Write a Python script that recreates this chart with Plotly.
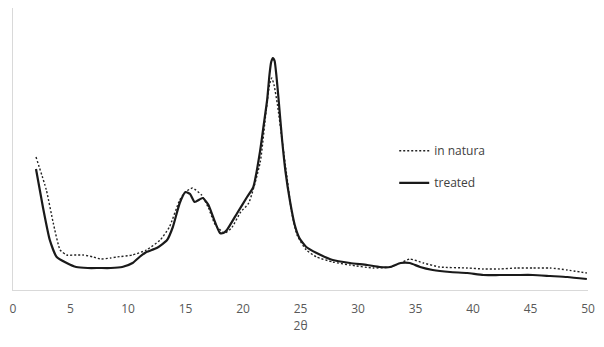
import plotly.graph_objects as go

# treated (solid)
treated_x = [2.0, 2.6, 3.2, 3.8, 4.67, 5.5, 6.5, 7.5, 8.5, 9.5, 10.4, 11.0, 11.6, 12.5, 13.4, 13.9,
             14.5, 15.0, 15.4, 15.8, 16.5, 17.0, 17.4, 18.0, 18.3, 18.6, 19.5, 20.3, 20.9, 21.5,
             21.8, 22.1, 22.3, 22.45, 22.6, 22.75, 22.9, 23.1, 23.4, 23.7, 24.1, 24.5, 24.9,
             25.5, 26.4, 27.8, 29.3, 30.8, 31.9, 32.8, 33.7, 34.5, 35.4, 36.5, 38.0, 39.5,
             40.9, 42.3, 43.8, 45.2, 46.7, 48.2, 49.9]
treated_y = [121, 83, 50, 33, 27, 23, 22, 22, 22, 23, 27, 33, 38, 42, 50, 63,
             87, 98, 96, 88, 92, 85, 73, 57, 57, 60, 77, 92, 103, 140,
             165, 190, 215, 228, 232, 229, 215, 190, 150, 118, 88, 65, 52,
             43, 37, 30, 27, 25, 23, 23, 27, 27, 23, 20, 18, 17,
             15, 15, 15, 15, 14, 13, 11]

# in natura (dotted)
natura_x = [2.0, 2.9, 3.5, 4.1, 4.67, 5.5, 6.1, 7.0, 7.6, 8.5, 9.0, 10.4, 11.6, 12.8, 13.6, 14.5,
            15.0, 15.6, 16.4, 17.0, 17.6, 18.4, 19.0, 19.8, 20.5, 21.5, 22.0, 22.3, 22.5, 22.7,
            23.0, 23.4, 23.8, 24.2, 24.7, 25.5, 26.4, 27.8, 29.3, 31.3, 32.8, 33.7, 34.5, 35.7,
            37.1, 39.5, 40.9, 42.3, 43.8, 45.2, 46.7, 48.2, 49.9]
natura_y = [133, 100, 67, 40, 35, 35, 35, 33, 31, 32, 33, 35, 40, 50, 63, 90,
            98, 102, 95, 82, 65, 57, 62, 78, 87, 128, 178, 205, 212, 205,
            185, 150, 115, 80, 55, 40, 33, 28, 25, 22, 23, 27, 31, 27,
            23, 22, 21, 21, 22, 22, 22, 20, 17]

x_ticks = [0, 5, 10, 15, 20, 25, 30, 35, 40, 45, 50]

fig = go.Figure()
fig.add_trace(go.Scatter(x=natura_x, y=natura_y, mode="lines", name="in natura",
                         legendgroup="a",
                         line=dict(color="#222222", width=1.4, dash="2px,2px",
                                   shape="spline", smoothing=0.5)))
fig.add_trace(go.Scatter(x=treated_x, y=treated_y, mode="lines", name="treated",
                         legendgroup="b",
                         line=dict(color="#1a1a1a", width=2.2,
                                   shape="spline", smoothing=0.5)))

# page body has an 8px margin, so the figure is sized/offset to compensate
fig.update_layout(
    width=596, height=339,
    margin=dict(l=5, r=16, t=0, b=57),
    paper_bgcolor="white", plot_bgcolor="white",
    font=dict(family="Open Sans, Noto Sans, sans-serif", size=12, color="#595959"),
    showlegend=True,
    legend=dict(x=0.663, y=0.545, xanchor="left", yanchor="top",
                font=dict(size=12, color="#404040"),
                bgcolor="rgba(0,0,0,0)", tracegroupgap=13, traceorder="grouped",
                itemwidth=30),
    xaxis=dict(range=[0, 50], tickmode="array", tickvals=x_ticks,
               ticktext=[str(t) for t in x_ticks],
               showgrid=False, zeroline=False, showline=True, linecolor="#d9d9d9",
               linewidth=1, ticks="", ticklabelstandoff=8, automargin=False,
               title=dict(text="2θ", font=dict(size=12, color="#595959"), standoff=4)),
    yaxis=dict(range=[0, 282], showgrid=False, zeroline=False, showline=True,
               linecolor="#d9d9d9", linewidth=1, showticklabels=False, ticks="",
               automargin=False),
)

fig.write_html("out.html")
